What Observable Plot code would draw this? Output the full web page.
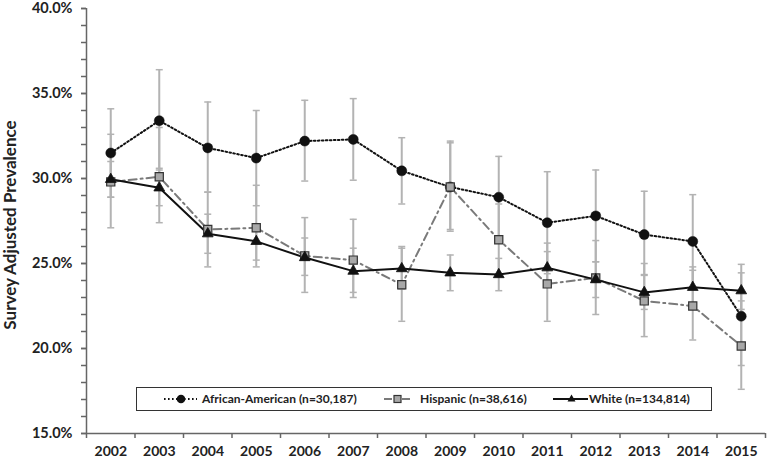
<!DOCTYPE html>
<html>
<head>
<meta charset="utf-8">
<script src="https://cdn.jsdelivr.net/npm/d3@7"></script>
<script src="https://cdn.jsdelivr.net/npm/@observablehq/plot@0.6"></script>
<style>
  html, body { margin: 0; padding: 0; background: #fff; }
  #wrap { position: relative; width: 768px; height: 462px; font-family: Lato, "Open Sans", sans-serif; }
  #legend { position: absolute; left: 136px; top: 387px; width: 574px; height: 22px; border: 1.5px solid #333; background: #fff; }
  #legend .sw { position: absolute; top: 0; }
  #legend .lt { position: absolute; top: 3px; font-size: 12px; font-weight: bold; color: #222; white-space: nowrap; }
</style>
</head>
<body>
<div id="wrap"></div>
<script>
const years = [2002,2003,2004,2005,2006,2007,2008,2009,2010,2011,2012,2013,2014,2015];

const aa    = [31.5, 33.4, 31.8, 31.2, 32.2, 32.3, 30.45, 29.5, 28.9, 27.4, 27.8, 26.7, 26.3, 21.9];
const aaHi  = [34.1, 36.4, 34.5, 34.0, 34.6, 34.7, 32.4, 32.2, 31.3, 30.4, 30.5, 29.25, 29.05, 24.95];
const aaLo  = [28.9, 30.5, 29.2, 28.4, 29.85, 29.9, 28.5, 26.9, 26.5, 24.4, 25.1, 24.3, 23.5, 19.0];

const hisp   = [29.8, 30.1, 27.0, 27.1, 25.45, 25.2, 23.75, 29.5, 26.4, 23.8, 24.15, 22.8, 22.5, 20.15];
const hispHi = [32.6, 33.0, 29.2, 29.6, 27.7, 27.6, 26.0, 32.1, 28.5, 26.2, 26.35, 25.0, 24.6, 22.8];
const hispLo = [27.1, 27.4, 24.8, 24.8, 23.3, 23.0, 21.6, 27.0, 24.3, 21.6, 22.0, 20.7, 20.5, 17.6];

const white   = [29.95, 29.45, 26.75, 26.3, 25.35, 24.55, 24.7, 24.45, 24.35, 24.75, 24.05, 23.3, 23.6, 23.4];
const whiteHi = [31.0, 30.6, 27.9, 27.3, 26.5, 25.9, 25.9, 25.5, 25.3, 25.7, 25.1, 24.35, 24.8, 24.45];
const whiteLo = [28.9, 28.4, 25.6, 25.2, 24.3, 23.3, 23.5, 23.4, 23.4, 23.7, 23.0, 22.3, 22.4, 22.3];

const seriesNames = ["African-American (n=30,187)", "Hispanic (n=38,616)", "White (n=134,814)"];
const yMajorTicks = [15, 20, 25, 30, 35, 40];
const yTitle = "Survey Adjusted Prevalence";

const rowsOf = (v, lo, hi) => years.map((year, i) => ({year, v: v[i], lo: lo[i], hi: hi[i]}));
const aaRows = rowsOf(aa, aaLo, aaHi);
const hispRows = rowsOf(hisp, hispLo, hispHi);
const whiteRows = rowsOf(white, whiteLo, whiteHi);
const allRows = [...aaRows, ...hispRows, ...whiteRows];

const capSymbol = { draw(ctx, size) { const w = 3.5; ctx.moveTo(-w, 0); ctx.lineTo(w, 0); } };

const axisColor = "#666";
const errColor = "#b3b3b3";

const chart = Plot.plot({
  width: 768,
  height: 462,
  marginLeft: 86,
  marginRight: 3,
  marginTop: 8,
  marginBottom: 29,
  style: { fontFamily: "Lato, 'Open Sans', sans-serif", fontSize: "14px", fontWeight: "bold", color: "#222", background: "#fff" },
  x: { type: "linear", domain: [years[0] - 0.5, years[years.length - 1] + 0.5], axis: null },
  y: { domain: [15, 40], axis: null },
  marks: [
    // error bars
    Plot.ruleX(allRows, { x: "year", y1: "lo", y2: "hi", stroke: errColor, strokeWidth: 2 }),
    Plot.dot(allRows, { x: "year", y: "hi", symbol: capSymbol, r: 2, stroke: errColor, strokeWidth: 1.5 }),
    Plot.dot(allRows, { x: "year", y: "lo", symbol: capSymbol, r: 2, stroke: errColor, strokeWidth: 1.5 }),
    // axes
    Plot.axisY({ ticks: d3.range(15, 40.01, 1), tickSize: 5, stroke: axisColor, strokeWidth: 1.5, tickFormat: () => "" }),
    Plot.axisY({ ticks: yMajorTicks, tickSize: 5, tickPadding: 9, stroke: axisColor, strokeWidth: 1.5,
                 tickFormat: d => d.toFixed(1) + "%", fill: "#222", fontSize: 14.5, label: null }),
    Plot.axisX({ ticks: d3.range(years[0] - 0.5, years[years.length - 1] + 0.6, 1), tickSize: 5, stroke: axisColor, strokeWidth: 1.5, tickFormat: () => "", label: null }),
    Plot.axisX({ ticks: years, tickSize: 0, tickPadding: 13, tickFormat: d => String(d), fill: "#222", label: null }),
    Plot.ruleX([years[0] - 0.5], { stroke: axisColor, strokeWidth: 1.5 }),
    Plot.ruleY([15], { stroke: axisColor, strokeWidth: 1.5 }),
    Plot.text([yTitle], { frameAnchor: "left", textAnchor: "middle", rotate: -90, dx: -76, dy: 4, fontSize: 17, fontWeight: "bold", fill: "#222" }),
    // lines
    Plot.line(aaRows, { x: "year", y: "v", stroke: "#111", strokeWidth: 2, strokeDasharray: "1.6 2.4" }),
    Plot.line(hispRows, { x: "year", y: "v", stroke: "#7a7a7a", strokeWidth: 2, strokeDasharray: "8 4 2 4" }),
    Plot.line(whiteRows, { x: "year", y: "v", stroke: "#111", strokeWidth: 2 }),
    // markers
    Plot.dot(aaRows, { x: "year", y: "v", r: 5, fill: "#111", stroke: "#111", strokeWidth: 0.5 }),
    Plot.dot(hispRows, { x: "year", y: "v", symbol: "square", r: 4.6, fill: "#a8a8a8", stroke: "#333", strokeWidth: 1.2 }),
    Plot.dot(whiteRows, { x: "year", y: "v", symbol: "triangle", r: 4, fill: "#111", stroke: "#111", strokeWidth: 0.8 })
  ]
});

const wrap = document.getElementById("wrap");
wrap.appendChild(chart);

// legend overlay
const legend = document.createElement("div");
legend.id = "legend";
legend.innerHTML = `
  <svg class="sw" style="left:26px" width="36" height="22">
    <line x1="1" y1="11" x2="34" y2="11" stroke="#111" stroke-width="2" stroke-dasharray="1.6 2.4"/>
    <circle cx="18" cy="11" r="4.3" fill="#111"/>
  </svg>
  <div class="lt" style="left:65px">${seriesNames[0]}</div>
  <svg class="sw" style="left:246px" width="31" height="22">
    <line x1="1" y1="11" x2="29" y2="11" stroke="#7a7a7a" stroke-width="2" stroke-dasharray="8 4 2 4"/>
    <rect x="11" y="7.5" width="7" height="7" fill="#a8a8a8" stroke="#333" stroke-width="1.2"/>
  </svg>
  <div class="lt" style="left:283px">${seriesNames[1]}</div>
  <svg class="sw" style="left:416px" width="36" height="22">
    <line x1="0" y1="11" x2="35" y2="11" stroke="#111" stroke-width="2"/>
    <path d="M18.5,6.5 L22.5,13.5 L14.5,13.5 Z" fill="#111"/>
  </svg>
  <div class="lt" style="left:452px">${seriesNames[2]}</div>
`;
wrap.appendChild(legend);
</script>
</body>
</html>
